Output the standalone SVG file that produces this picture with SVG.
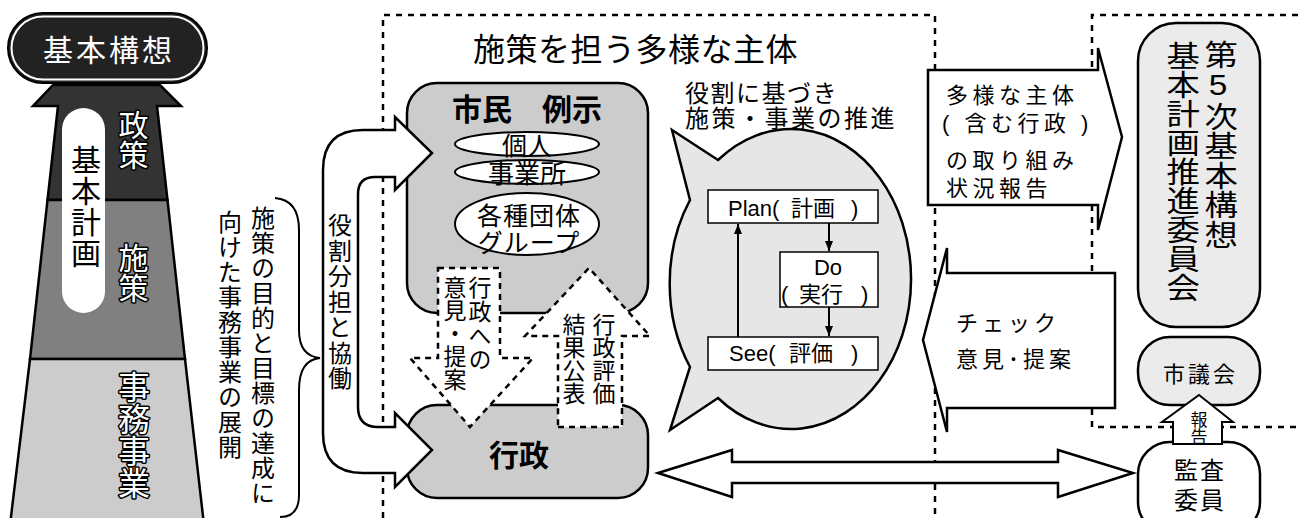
<svg xmlns="http://www.w3.org/2000/svg" width="1298" height="518" viewBox="0 0 1298 518">
<defs>
<style>
text{font-family:"Liberation Sans","Noto Sans CJK JP",sans-serif;fill:#000}
.v{writing-mode:vertical-rl;text-orientation:upright}
.ol{fill:#fff;stroke:#000;stroke-width:3;paint-order:stroke;stroke-linejoin:round}
.dash{fill:none;stroke:#000;stroke-width:2.5;stroke-dasharray:6 6}
.dashw{fill:#fff;stroke:#000;stroke-width:2.5;stroke-dasharray:6 5}
.bx{stroke:#000;stroke-width:2.5}
.arr{fill:#fff;stroke:#000;stroke-width:2.5;stroke-linejoin:miter}
.ln{fill:none;stroke:#000;stroke-width:2}
</style>
<marker id="ah" viewBox="0 0 10 8" refX="10" refY="4" markerWidth="5" markerHeight="4" orient="auto" markerUnits="strokeWidth"><path d="M0,0 L10,4 L0,8 z" fill="#000"/></marker>
</defs>
<rect width="1298" height="518" fill="#fff"/>

<g id="regions">
<path class="dash" d="M383,518 L383,15 L935,15 L935,518"/>
<path class="dash" d="M1298,15 L1092,15 L1092,427 L1298,427"/>
</g>

<g id="pyramid">
<polygon points="53,85 160,85 181,106 157,106 167.5,200 47.5,200 58,106 33,106" fill="#333" stroke="#000" stroke-width="2.5"/>
<polygon points="47.5,200 167.5,200 185,359 30,359" fill="#808080" stroke="#000" stroke-width="2.5"/>
<polygon points="30,359 185,359 204,525 10,525" fill="#ccc" stroke="#000" stroke-width="2.5"/>
<rect x="62" y="108" width="43" height="205" rx="21.5" fill="#fff"/>
<text class="v" x="83.5" y="145" font-size="30" letter-spacing="1">基本計画</text>
<text class="v ol" x="131" y="110" font-size="30">政策</text>
<text class="v ol" x="131" y="243" font-size="30">施策</text>
<text class="v ol" x="131" y="371" font-size="32">事務事業</text>
</g>

<g id="kihon-koso">
<rect x="8" y="13" width="199" height="70" rx="35" fill="#222" stroke="#000" stroke-width="2"/>
<rect x="11.5" y="16.5" width="192" height="63" rx="31.5" fill="none" stroke="#fff" stroke-width="2"/>
<text x="109" y="61" font-size="30" style="fill:#fff" text-anchor="middle" letter-spacing="3">基本構想</text>
</g>

<g id="purpose-text">
<text class="v" x="261" y="206" font-size="24" letter-spacing="1">施策の目的と目標の達成に</text>
<text class="v" x="228" y="210" font-size="24" letter-spacing="1">向けた事務事業の展開</text>
<path class="ln" d="M275,198 Q299,200 299,230 L299,330 Q299,356 320,358 Q299,360 299,390 L299,495 Q299,517 280,517"/>
</g>

<g id="title">
<text x="473" y="61" font-size="32" letter-spacing="0.5">施策を担う多様な主体</text>
</g>

<g id="shimin">
<rect class="bx" x="407" y="83" width="241" height="230" rx="30" fill="#ccc"/>
<text x="527" y="120" font-size="30" font-weight="bold" text-anchor="middle">市民　例示</text>
<ellipse cx="527" cy="144" rx="72" ry="12" fill="#fff" stroke="#000" stroke-width="2"/>
<text x="527" y="155" font-size="25" text-anchor="middle">個人</text>
<ellipse cx="527" cy="172" rx="72" ry="12" fill="#fff" stroke="#000" stroke-width="2"/>
<text x="527" y="183" font-size="26" text-anchor="middle">事業所</text>
<ellipse cx="527" cy="224" rx="72" ry="31" fill="#fff" stroke="#000" stroke-width="2"/>
<text x="529" y="225" font-size="25" letter-spacing="1" text-anchor="middle">各種団体</text>
<text x="529" y="252" font-size="25" letter-spacing="1" text-anchor="middle">グループ</text>
</g>

<g id="gyosei">
<rect class="bx" x="407" y="405" width="241" height="93" rx="30" fill="#ccc"/>
<text x="519" y="466" font-size="30" font-weight="bold" text-anchor="middle">行政</text>
</g>

<g id="connectors">
<path class="arr" d="M432,153 L395,190 L395,177 L375,177 Q358,177 358,194 L358,407 Q358,427 378,427 L395,427 L395,413 L432,450 L395,487 L395,473 L363,473 Q323,473 323,433 L323,170 Q323,130 363,130 L395,130 L395,117 Z"/>
<text class="v" x="338" y="213" font-size="24" letter-spacing="1.5">役割分担と協働</text>

<polygon class="dashw" points="438,268 500,268 500,358 533,358 470,427 410,358 438,358"/>
<text class="v" x="478" y="276" font-size="23" letter-spacing="1">行政への</text>
<text class="v" x="453" y="276" font-size="23">意見・提案</text>

<polygon class="dashw" points="558,427 622,427 622,336 650,336 589,268 525,336 558,336"/>
<text class="v" x="602" y="313" font-size="23">行政評価</text>
<text class="v" x="572" y="313" font-size="23">結果公表</text>

<polygon class="arr" points="928,70 1098,70 1098,48 1122,137 1098,230 1098,205 928,205"/>
<text font-size="22" letter-spacing="4.5"><tspan x="946" y="103">多様な主体</tspan><tspan x="942" y="131" xml:space="preserve">( 含む行政 )</tspan><tspan x="946" y="168">の取り組み</tspan><tspan x="946" y="196">状況報告</tspan></text>

<polygon class="arr" points="1115,273 1115,408 947,408 947,432 923,340 947,248 947,273"/>
<text font-size="22" letter-spacing="4"><tspan x="956" y="331">チェック</tspan><tspan x="956" y="367">意見･提案</tspan></text>

<polygon class="arr" points="658,473 732,450 732,462 1058,462 1058,450 1133,473 1058,497 1058,483 732,483 732,497"/>
</g>

<g id="bubble">
<path d="M672,130 L718,160 A120,150 0 1 1 718,398 L670,430 L690,367 A120,150 0 0 1 690,200 Z" fill="#e6e6e6" stroke="#000" stroke-width="2.5" stroke-linejoin="miter"/>
<text x="685" y="102" font-size="24" letter-spacing="1.5">役割に基づき</text>
<text x="685" y="127" font-size="24" letter-spacing="2.5">施策・事業の推進</text>
</g>

<g id="pdca">
<rect x="708" y="190" width="170" height="33" fill="#fff" stroke="#000" stroke-width="1.5"/>
<text font-size="22" y="216"><tspan x="728">Plan(</tspan><tspan x="791">計画</tspan><tspan x="851">)</tspan></text>
<rect x="780" y="252" width="98" height="55" fill="#fff" stroke="#000" stroke-width="1.5"/>
<text x="828" y="275" font-size="22" text-anchor="middle">Do</text>
<text font-size="22" y="302"><tspan x="781">(</tspan><tspan x="799">実行</tspan><tspan x="861">)</tspan></text>
<rect x="708" y="337" width="170" height="33" fill="#fff" stroke="#000" stroke-width="1.5"/>
<text font-size="22" y="361"><tspan x="729">See(</tspan><tspan x="789">評価</tspan><tspan x="851">)</tspan></text>
<line class="ln" x1="829" y1="223" x2="829" y2="251" marker-end="url(#ah)"/>
<line class="ln" x1="829" y1="307" x2="829" y2="336" marker-end="url(#ah)"/>
<line class="ln" x1="738" y1="337" x2="738" y2="224" marker-end="url(#ah)"/>
</g>

<g id="committee">
<rect class="bx" x="1138" y="23" width="122" height="304" rx="38" fill="#ebebeb"/>
<text class="v" transform="translate(1218,0) scale(1.15,1)" x="0" y="40" font-size="29" letter-spacing="0.5">第5次基本構想</text>
<text class="v" transform="translate(1180,0) scale(1.15,1)" x="0" y="41" font-size="29">基本計画推進委員会</text>
</g>

<g id="shigikai">
<rect class="bx" x="1138" y="337" width="122" height="68" rx="32" fill="#ebebeb"/>
<text x="1200.5" y="382" font-size="22" letter-spacing="3" text-anchor="middle">市議会</text>
</g>

<g id="kansa">
<rect class="bx" x="1138" y="442" width="122" height="92" rx="32" fill="#fff"/>
<text x="1200" y="479" font-size="24" letter-spacing="2" text-anchor="middle">監査</text>
<text x="1200" y="509" font-size="24" letter-spacing="2" text-anchor="middle">委員</text>
</g>

<g id="report-arrow">
<polygon points="1199,395 1233,422 1222,422 1222,444 1173,444 1173,422 1162,422" fill="#fff" stroke="#000" stroke-width="2"/>
<text x="1199" y="426" font-size="17" text-anchor="middle">報</text>
<text x="1199" y="443" font-size="17" text-anchor="middle">告</text>
</g>
</svg>
